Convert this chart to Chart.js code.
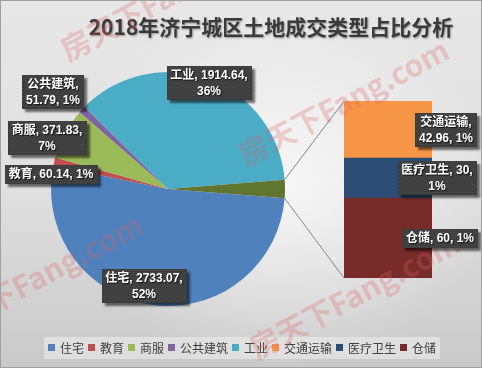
<!DOCTYPE html>
<html><head><meta charset="utf-8">
<script src="https://cdn.jsdelivr.net/npm/chart.js@4/dist/chart.umd.min.js"></script>
<style>
html,body{margin:0;padding:0;background:#fff;}
#wrap{position:relative;width:482px;height:368px;overflow:hidden;box-sizing:border-box;border:1px solid #a0a0a0;
background:radial-gradient(ellipse 45% 50% at 58% 50%, rgba(255,255,255,0.75) 0%, rgba(255,255,255,0) 100%), linear-gradient(#e7e7e7 0%, #e0e0e0 50%, #c9c9c9 100%);}
canvas{position:absolute;left:-1px;top:-1px;}
</style></head><body>
<div id="wrap"><canvas id="pie" width="482" height="368"></canvas><canvas id="bar" width="482" height="368"></canvas></div>
<script>
// ---- data ----
const pieCategories = ['住宅', '教育', '商服', '公共建筑', '工业'];
const pieValues = [2733.07, 60.14, 371.83, 51.79, 1914.64];
const barCategories = ['交通运输', '医疗卫生', '仓储'];
const barValues = [42.96, 30, 60];
const titleText = '2018年济宁城区土地成交类型占比分析';
const watermarkText = '房天下Fang.com';

// ---- styles ----
const pieColors = ['#4F81BD', '#C0504D', '#9BBB59', '#8064A2', '#4BACC6'];
const otherColor = '#5F7530';
const barColors = ['#F79646', '#2C4D75', '#772C2A'];
const CJK = '"Noto Sans CJK SC"';
const LABEL_FONT = 'bold 12px "Liberation Sans", ' + CJK + ', sans-serif';
// label box centres and line split (number of comma parts on first line)
const labelStyle = {
  '住宅': {cx: 144, cy: 286, split: 2},
  '教育': {cx: 51, cy: 174, split: 3},
  '商服': {cx: 47, cy: 138, split: 2},
  '公共建筑': {cx: 53, cy: 92, split: 1},
  '工业': {cx: 209, cy: 83, split: 2},
  '交通运输': {cx: 446, cy: 130, split: 1},
  '医疗卫生': {cx: 437, cy: 178, split: 2},
  '仓储': {cx: 440, cy: 238, split: 3}
};
const watermarkPos = [[68, 62], [246, 167], [-60, 342], [257, 360]];

const otherValue = barValues.reduce((a, b) => a + b, 0);
const total = pieValues.reduce((a, b) => a + b, 0) + otherValue;
const pct = v => Math.round(v / total * 100) + '%';
const otherDeg = otherValue / total * 360;

function labelLines(name, value) {
  const parts = [name, String(value), pct(value)];
  const s = labelStyle[name].split;
  if (s >= 3) return [parts.join(', ')];
  return [parts.slice(0, s).join(', ') + ',', parts.slice(s).join(', ')];
}

function drawLabel(ctx, name, value) {
  const st = labelStyle[name];
  const lines = labelLines(name, value);
  ctx.save();
  ctx.font = LABEL_FONT;
  const w = Math.round(Math.max(...lines.map(l => ctx.measureText(l).width)) + 8);
  const lh = 15.5;
  const h = Math.round(lines.length * lh + 3);
  const x = Math.round(st.cx - w / 2), y = Math.round(st.cy - h / 2);
  ctx.shadowColor = 'rgba(0,0,0,0.55)';
  ctx.shadowOffsetX = 3; ctx.shadowOffsetY = 3; ctx.shadowBlur = 2;
  ctx.fillStyle = '#3d3d3d';
  ctx.fillRect(x, y, w, h);
  ctx.restore();
  ctx.save();
  ctx.fillStyle = 'rgba(255,255,255,0.08)';
  for (let yy = y + 1; yy < y + h - 1; yy += 2) {
    for (let xx = x + 1 + ((yy - y) % 4 === 1 ? 0 : 1); xx < x + w - 1; xx += 2) ctx.fillRect(xx, yy, 1, 1);
  }
  ctx.restore();
  ctx.save();
  ctx.font = LABEL_FONT;
  ctx.textAlign = 'center';
  ctx.textBaseline = 'middle';
  ctx.shadowColor = 'rgba(0,0,0,0.7)';
  ctx.shadowOffsetX = 1; ctx.shadowOffsetY = 1; ctx.shadowBlur = 1;
  ctx.fillStyle = '#ffffff';
  lines.forEach((l, i) => ctx.fillText(l, st.cx, y + 2 + lh * (i + 0.5)));
  ctx.restore();
}

// ---- pie chart ----
const piePlugin = {
  id: 'pieDecor',
  afterDraw(chart) {
    const ctx = chart.ctx;
    // title
    ctx.save();
    ctx.font = 'bold 21px ' + CJK + ', sans-serif';
    ctx.textAlign = 'center';
    ctx.textBaseline = 'middle';
    ctx.shadowColor = 'rgba(0,0,0,0.35)';
    ctx.shadowOffsetX = 1; ctx.shadowOffsetY = 1; ctx.shadowBlur = 2;
    ctx.fillStyle = '#3a3a3a';
    ctx.fillText(titleText, 271, 27);
    ctx.restore();
    // legend
    const names = pieCategories.concat(barCategories);
    const cols = pieColors.concat(barColors);
    ctx.save();
    ctx.font = '12px ' + CJK + ', sans-serif';
    const widths = names.map(n => ctx.measureText(n).width);
    const itemW = widths.map(w => 7 + 5 + w + 4);
    const totalW = itemW.reduce((a, b) => a + b, 0) - 4;
    let x = Math.round(242 - totalW / 2);
    const ly = 348;
    ctx.fillStyle = 'rgba(238,238,238,0.55)';
    ctx.fillRect(x - 4, 337, totalW + 8, 22);
    ctx.textBaseline = 'middle';
    ctx.textAlign = 'left';
    names.forEach((n, i) => {
      ctx.fillStyle = cols[i];
      ctx.fillRect(x, ly - 4, 7, 7);
      ctx.fillStyle = '#404040';
      ctx.fillText(n, x + 12, ly);
      x += itemW[i];
    });
    ctx.restore();
  }
};

const pieChart = new Chart(document.getElementById('pie'), {
  type: 'pie',
  data: {
    labels: pieCategories.concat(['其他']),
    datasets: [{
      data: pieValues.concat([otherValue]),
      backgroundColor: pieColors.concat([otherColor]),
      borderWidth: 0
    }]
  },
  options: {
    responsive: false,
    animation: false,
    events: [],
    rotation: 90 + otherDeg / 2,
    layout: {padding: {left: 51, right: 197, top: 72, bottom: 62}},
    plugins: {legend: {display: false}, title: {display: false}, tooltip: {enabled: false}}
  },
  plugins: [piePlugin]
});

// ---- bar chart (stacked, bottom to top: 仓储, 医疗卫生, 交通运输) ----
const stackOrder = [2, 1, 0];
const barPlugin = {
  id: 'barDecor',
  afterDraw(chart) {
    const ctx = chart.ctx;
    // connectors
    const arc = pieChart.getDatasetMeta(0).data[pieValues.length];
    const topBar = chart.getDatasetMeta(stackOrder.length - 1).data[0];
    const botBar = chart.getDatasetMeta(0).data[0];
    const left = topBar.x - topBar.width / 2;
    ctx.save();
    ctx.strokeStyle = '#858585';
    ctx.lineWidth = 1;
    ctx.beginPath();
    ctx.moveTo(arc.x + arc.outerRadius * Math.cos(arc.startAngle), arc.y + arc.outerRadius * Math.sin(arc.startAngle));
    ctx.lineTo(left, topBar.y);
    ctx.moveTo(arc.x + arc.outerRadius * Math.cos(arc.endAngle), arc.y + arc.outerRadius * Math.sin(arc.endAngle));
    ctx.lineTo(left, botBar.base);
    ctx.stroke();
    ctx.restore();
    // watermark
    ctx.save();
    ctx.font = 'bold 30px ' + CJK + ', sans-serif';
    ctx.fillStyle = 'rgba(222,95,95,0.27)';
    watermarkPos.forEach(p => {
      ctx.save();
      ctx.translate(p[0], p[1]);
      ctx.rotate(-28 * Math.PI / 180);
      ctx.fillText(watermarkText, 0, 0);
      ctx.restore();
    });
    ctx.restore();
    // labels
    pieCategories.forEach((n, i) => drawLabel(ctx, n, pieValues[i]));
    barCategories.forEach((n, i) => drawLabel(ctx, n, barValues[i]));
  }
};

new Chart(document.getElementById('bar'), {
  type: 'bar',
  data: {
    labels: [''],
    datasets: stackOrder.map(i => ({
      label: barCategories[i],
      data: [barValues[i]],
      backgroundColor: barColors[i],
      borderWidth: 0,
      barPercentage: 1,
      categoryPercentage: 1
    }))
  },
  options: {
    responsive: false,
    animation: false,
    events: [],
    layout: {padding: {left: 344, right: 50, top: 101, bottom: 90}},
    scales: {
      x: {stacked: true, display: false},
      y: {stacked: true, display: false, min: 0, max: otherValue}
    },
    plugins: {legend: {display: false}, title: {display: false}, tooltip: {enabled: false}}
  },
  plugins: [barPlugin]
});
</script>
</body></html>
